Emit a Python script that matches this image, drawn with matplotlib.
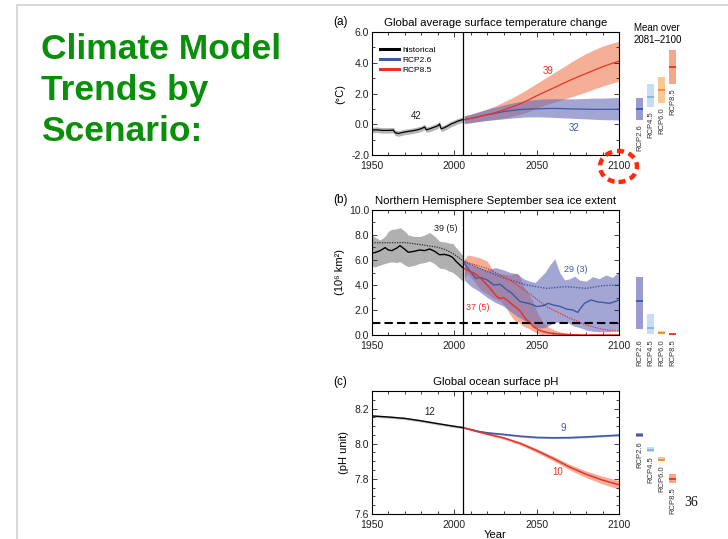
"""Slide: climate model trends by scenario (three stacked panels + side bars)."""

import matplotlib

matplotlib.use("Agg")
import matplotlib.pyplot as plt
from matplotlib.lines import Line2D
from matplotlib.patches import Ellipse
from matplotlib.ticker import FormatStrFormatter, MultipleLocator

plt.rcParams["font.family"] = ["Liberation Sans", "DejaVu Sans"]

# ---- colours -------------------------------------------------------------
C_RED = "#e8312a"
C_RED_BAND = "#ef7a50"
C_BLUE = "#3c5aa8"
C_BLUE_BAND = "#6669b6"
C_GRAY_BAND = "#9c9c9c"
SIDE_FILL = ["#9b9bd0", "#c5def5", "#f9c897", "#f5a78a"]
SIDE_MEAN = ["#3a55a4", "#7fb5e6", "#f28c2d", "#e8312a"]

# ---- (a) temperature ------------------------------------------------------
HIST_YEARS_A = [1950, 1953, 1956, 1960, 1963, 1964, 1966, 1970, 1975, 1978, 1980, 1982,
                1983, 1985, 1988, 1990, 1991, 1992, 1994, 1997, 1998, 2000, 2002, 2005]
HIST_TEMP = [-0.38, -0.36, -0.40, -0.40, -0.38, -0.55, -0.60, -0.50, -0.42, -0.35, -0.28, -0.18,
             -0.36, -0.30, -0.18, -0.10, 0.02, -0.30, -0.22, -0.05, 0.02, 0.10, 0.20, 0.30]
HIST_TEMP_LO = [-0.56, -0.54, -0.58, -0.58, -0.56, -0.73, -0.78, -0.68, -0.60, -0.53, -0.46, -0.36,
                -0.54, -0.48, -0.36, -0.28, -0.16, -0.48, -0.40, -0.23, -0.16, -0.08, 0.02, 0.12]
HIST_TEMP_HI = [-0.20, -0.18, -0.22, -0.22, -0.20, -0.37, -0.42, -0.32, -0.24, -0.17, -0.10, 0.00,
                -0.18, -0.12, 0.00, 0.08, 0.20, -0.12, -0.04, 0.13, 0.20, 0.28, 0.38, 0.48]

RCP_YEARS_A = [2006, 2010, 2015, 2020, 2025, 2030, 2035, 2040, 2045, 2050,
               2055, 2060, 2065, 2070, 2075, 2080, 2085, 2090, 2095, 2100]
RCP85_TEMP = [0.30, 0.38, 0.50, 0.62, 0.76, 0.93, 1.12, 1.33, 1.58, 1.85,
              2.10, 2.35, 2.60, 2.85, 3.08, 3.30, 3.52, 3.74, 3.93, 4.10]
RCP85_TEMP_LO = [0.05, 0.10, 0.18, 0.25, 0.32, 0.40, 0.52, 0.65, 0.82, 1.05,
                 1.25, 1.42, 1.58, 1.75, 1.92, 2.10, 2.30, 2.48, 2.65, 2.80]
RCP85_TEMP_HI = [0.55, 0.65, 0.80, 0.98, 1.20, 1.45, 1.72, 2.00, 2.32, 2.65,
                 2.98, 3.32, 3.65, 3.98, 4.30, 4.60, 4.85, 5.08, 5.25, 5.40]
RCP26_TEMP = [0.30, 0.38, 0.50, 0.62, 0.72, 0.82, 0.90, 0.96, 0.99, 1.00,
              1.02, 1.03, 1.02, 1.00, 0.99, 0.98, 0.97, 0.97, 0.97, 0.98]
RCP26_TEMP_LO = [0.05, 0.10, 0.18, 0.25, 0.30, 0.35, 0.40, 0.45, 0.48, 0.48,
                 0.47, 0.45, 0.42, 0.40, 0.37, 0.35, 0.32, 0.30, 0.29, 0.28]
RCP26_TEMP_HI = [0.55, 0.65, 0.82, 0.98, 1.12, 1.25, 1.38, 1.48, 1.56, 1.62,
                 1.65, 1.66, 1.66, 1.65, 1.66, 1.68, 1.70, 1.70, 1.72, 1.74]

# ---- (b) sea ice ----------------------------------------------------------
HIST_YEARS_B = [1950, 1952, 1955, 1958, 1960, 1962, 1965, 1967, 1970, 1972, 1975,
                1979, 1982, 1985, 1988, 1991, 1994, 1997, 1999, 2001, 2003, 2005]
HIST_ICE = [6.55, 6.60, 6.75, 6.99, 6.80, 6.75, 6.95, 7.15, 6.85, 6.62, 6.68,
            6.80, 6.75, 6.88, 6.70, 6.42, 6.45, 6.35, 6.20, 5.90, 5.65, 5.40]
HIST_ICE_LO = [5.50, 5.45, 5.60, 5.73, 5.80, 5.85, 5.80, 5.87, 5.60, 5.47, 5.55,
               5.73, 5.80, 5.92, 5.70, 5.35, 5.30, 5.10, 5.01, 4.80, 4.55, 4.32]
HIST_ICE_HI = [8.00, 7.80, 7.60, 7.90, 8.30, 8.45, 8.50, 8.59, 8.30, 8.00, 7.90,
               7.87, 8.00, 8.20, 7.90, 7.50, 7.45, 7.35, 7.33, 7.00, 6.70, 6.40]
OBS_YEARS = [1950, 1960, 1970, 1980, 1990, 1995, 2000, 2005]
OBS_ICE = [7.38, 7.38, 7.40, 7.22, 7.02, 6.80, 6.45, 5.95]

RCP85_ICE_YEARS = [2006, 2009, 2012, 2014, 2016, 2018, 2021, 2024, 2026, 2028, 2030, 2032, 2035, 2038,
                   2040, 2043, 2046, 2048, 2051, 2054, 2057, 2060, 2065, 2070, 2075, 2080, 2090, 2100]
RCP85_ICE = [5.33, 5.10, 4.95, 4.75, 4.55, 4.25, 3.85, 3.35, 3.05, 2.92, 2.98, 2.80, 2.45, 2.15,
             1.92, 1.35, 0.95, 0.67, 0.42, 0.27, 0.18, 0.12, 0.06, 0.03, 0.01, 0.0, 0.0, 0.0]
RCP85_BAND_YEARS = [2006, 2008, 2012, 2016, 2020, 2024, 2028, 2031, 2034, 2037, 2039,
                    2042, 2045, 2048, 2051, 2054, 2057, 2060, 2064, 2068, 2074, 2080]
RCP85_ICE_HI = [6.00, 6.40, 6.30, 6.15, 5.90, 5.05, 4.90, 4.85, 4.80, 4.95, 4.90,
                3.90, 3.30, 2.60, 1.60, 1.00, 0.67, 0.45, 0.27, 0.15, 0.07, 0.0]
RCP85_ICE_LO = [4.60, 4.90, 4.30, 3.60, 3.30, 2.93, 2.70, 2.27, 1.60, 1.10, 1.00,
                0.70, 0.53, 0.30, 0.10, 0.0, 0.0, 0.0, 0.0, 0.0, 0.0, 0.0]
SUBSET_YEARS = [2006, 2020, 2032, 2044, 2056, 2068, 2080, 2090, 2100]
RCP85_ICE_SUBSET = [5.87, 5.33, 4.53, 3.47, 2.27, 1.47, 0.80, 0.45, 0.30]
RCP26_ICE_SUBSET = [5.87, 5.07, 4.48, 4.00, 3.73, 3.87, 3.73, 3.95, 4.00]

RCP26_ICE_YEARS = [2006, 2009, 2013, 2016, 2020, 2024, 2028, 2031, 2035, 2040, 2045, 2048, 2050, 2054,
                   2057, 2060, 2064, 2068, 2072, 2075, 2077, 2079, 2083, 2087, 2090, 2094, 2097, 2100]
RCP26_ICE = [5.73, 5.20, 4.53, 4.60, 4.40, 4.00, 4.05, 3.70, 3.33, 2.67, 2.53, 2.40, 2.27, 2.35,
             2.53, 2.40, 2.30, 2.08, 2.00, 1.81, 2.20, 2.53, 2.80, 2.65, 2.61, 2.53, 2.65, 2.80]
RCP26_BAND_YEARS = [2006, 2010, 2015, 2020, 2025, 2030, 2034, 2038, 2042, 2046, 2049, 2052, 2055,
                    2058, 2061, 2064, 2067, 2070, 2073, 2076, 2080, 2084, 2088, 2092, 2096, 2100]
RCP26_ICE_HI = [6.10, 5.60, 5.40, 5.20, 5.40, 5.20, 5.00, 4.90, 4.50, 4.30, 4.20, 4.60, 5.00,
                5.60, 6.10, 5.00, 4.40, 4.50, 4.70, 4.40, 4.30, 4.67, 4.50, 4.80, 4.60, 5.07]
RCP26_ICE_LO = [4.40, 3.90, 3.50, 3.00, 2.60, 2.30, 1.90, 1.50, 1.20, 0.90, 0.60, 0.55, 0.60,
                0.80, 1.00, 1.05, 1.10, 0.90, 0.70, 0.60, 0.40, 0.30, 0.27, 0.25, 0.30, 0.35]
ICE_FREE_LEVEL = 1.0

# ---- (c) ocean pH ---------------------------------------------------------
HIST_YEARS_C = [1950, 1960, 1970, 1980, 1990, 2000, 2005]
HIST_PH = [8.158, 8.152, 8.144, 8.130, 8.114, 8.099, 8.092]
HIST_PH_LO = [8.151, 8.145, 8.137, 8.123, 8.107, 8.092, 8.085]
HIST_PH_HI = [8.165, 8.159, 8.151, 8.137, 8.121, 8.106, 8.099]
RCP_YEARS_C = [2006, 2015, 2020, 2030, 2040, 2050, 2060, 2070, 2080, 2090, 2100]
RCP26_PH = [8.090, 8.070, 8.062, 8.053, 8.043, 8.036, 8.034, 8.035, 8.039, 8.044, 8.049]
RCP26_PH_LO = [8.086, 8.065, 8.057, 8.048, 8.038, 8.031, 8.029, 8.030, 8.034, 8.039, 8.044]
RCP26_PH_HI = [8.094, 8.075, 8.067, 8.058, 8.048, 8.041, 8.039, 8.040, 8.044, 8.049, 8.054]
RCP85_PH = [8.090, 8.067, 8.055, 8.033, 8.002, 7.961, 7.916, 7.867, 7.826, 7.793, 7.766]
RCP85_PH_LO = [8.086, 8.062, 8.049, 8.026, 7.993, 7.950, 7.903, 7.851, 7.807, 7.771, 7.741]
RCP85_PH_HI = [8.094, 8.072, 8.061, 8.040, 8.011, 7.972, 7.929, 7.883, 7.845, 7.815, 7.791]

# ---- side bars: mean over 2081-2100 ---------------------------------------
SCENARIOS = ["RCP2.6", "RCP4.5", "RCP6.0", "RCP8.5"]
TEMP_MEAN = [1.0, 1.8, 2.2, 3.7]
TEMP_LO = [0.3, 1.1, 1.4, 2.6]
TEMP_HI = [1.7, 2.6, 3.1, 4.8]
ICE_MEAN = [2.7, 0.6, 0.2, 0.05]
ICE_LO = [0.45, 0.05, 0.05, 0.0]
ICE_HI = [4.65, 1.7, 0.32, 0.12]
PH_MEAN = [8.05, 7.965, 7.91, 7.80]
PH_LO = [8.04, 7.95, 7.90, 7.775]
PH_HI = [8.06, 7.98, 7.925, 7.83]

W, H = 728, 539


def _px_axes(fig, left, top, right, bottom, **kw):
    return fig.add_axes([left / W, 1 - bottom / H, (right - left) / W, (bottom - top) / H], **kw)


def _style(ax, ylim, ymajor, yminor, yfmt):
    ax.set_xlim(1950, 2100)
    ax.set_ylim(*ylim)
    ax.xaxis.set_major_locator(MultipleLocator(50))
    ax.xaxis.set_minor_locator(MultipleLocator(10))
    ax.yaxis.set_major_locator(MultipleLocator(ymajor))
    ax.yaxis.set_minor_locator(MultipleLocator(yminor))
    ax.yaxis.set_major_formatter(FormatStrFormatter(yfmt))
    ax.tick_params(which="both", direction="in", top=True, right=True, width=0.6,
                   labelsize=7.5, colors="#222222")
    ax.tick_params(which="major", length=3.5)
    ax.tick_params(which="minor", length=2)
    ax.tick_params(axis="x", pad=4)
    ax.tick_params(axis="y", pad=2)
    for sp in ax.spines.values():
        sp.set_linewidth(0.8)
    ax.axvline(2005.5, color="black", lw=0.9, zorder=5)


def _side_bars(fig, ax, top, bottom, mean, lo, hi, label_floor=None):
    side = _px_axes(fig, 634, top, 678, bottom, sharey=ax)
    side.set_xlim(0, 4)
    side.axis("off")
    for i, name in enumerate(SCENARIOS):
        x = i + 0.5
        side.bar(x, hi[i] - lo[i], bottom=lo[i], width=0.7, color=SIDE_FILL[i], lw=0)
        side.plot([x - 0.35, x + 0.35], [mean[i], mean[i]], color=SIDE_MEAN[i], lw=1.3,
                  solid_capstyle="butt")
        y_lab = lo[i] if label_floor is None else min(lo[i], label_floor)
        side.annotate(name, (x, y_lab), xytext=(0, -3), textcoords="offset points",
                      rotation=90, ha="center", va="top", fontsize=5.5, color="#333333",
                      annotation_clip=False)
    return side


def main():
    fig = plt.figure(figsize=(W / 100, H / 100), dpi=100)

    # slide frame and title
    fig.add_artist(Line2D([17 / W, 17 / W], [0, 1 - 5 / H], color="#d9d9d9", lw=1.5))
    fig.add_artist(Line2D([17 / W, 1], [1 - 5 / H, 1 - 5 / H], color="#d9d9d9", lw=1.5))
    fig.text(41 / W, 1 - 33 / H, "Climate Model\nTrends by\nScenario:", ha="left", va="top",
             fontsize=25.5, fontweight="bold", color="#0a8f0a", linespacing=1.31)
    fig.text(691 / W, 1 - 502 / H, "36", ha="center", va="center", fontsize=10,
             family="Liberation Serif", color="#111111")

    # ---- (a) ----
    ax = _px_axes(fig, 372, 32, 619, 155)
    _style(ax, (-2, 6), 2, 1, "%.1f")
    ax.fill_between(HIST_YEARS_A, HIST_TEMP_LO, HIST_TEMP_HI, color=C_GRAY_BAND, alpha=0.75, lw=0)
    ax.fill_between(RCP_YEARS_A, RCP85_TEMP_LO, RCP85_TEMP_HI, color=C_RED_BAND, alpha=0.6, lw=0)
    ax.fill_between(RCP_YEARS_A, RCP26_TEMP_LO, RCP26_TEMP_HI, color=C_BLUE_BAND, alpha=0.6, lw=0)
    ax.plot(HIST_YEARS_A, HIST_TEMP, color="black", lw=0.9, label="historical")
    ax.plot(RCP_YEARS_A, RCP26_TEMP, color=C_BLUE, lw=0.9, label="RCP2.6")
    ax.plot(RCP_YEARS_A, RCP85_TEMP, color=C_RED, lw=0.9, label="RCP8.5")
    leg = ax.legend(loc="upper left", bbox_to_anchor=(0.01, 0.93), frameon=False, fontsize=6,
                    handlelength=2.2, handletextpad=0.4, labelspacing=0.25, borderpad=0.2)
    for ln in leg.get_lines():
        ln.set_linewidth(2.2)
    ax.text(1977, 0.55, "42", fontsize=7, color="#222222", ha="center", va="center")
    ax.text(2057, 3.45, "39", fontsize=7, color=C_RED, ha="center", va="center")
    ax.text(2073, -0.22, "32", fontsize=7, color=C_BLUE, ha="center", va="center")
    ax.set_ylabel("(°C)", fontsize=8, labelpad=4)
    ax.set_title("Global average surface temperature change", fontsize=8.2, pad=4)
    fig.text(333 / W, 1 - 22 / H, "(a)", fontsize=8.5, ha="left", va="center")
    fig.text(634 / W, 1 - 34 / H, "Mean over\n2081\u20132100", fontsize=7, ha="left",
             va="center", linespacing=1.15)
    _side_bars(fig, ax, 32, 155, TEMP_MEAN, TEMP_LO, TEMP_HI)
    # red dashed circle round the 2100 label
    fig.add_artist(Ellipse((618.5 / W, 1 - 166.5 / H), 37 / W, 31 / H, fill=False,
                           edgecolor="#ff2a0a", lw=3.2, linestyle=(0, (1.6, 1.1)),
                           transform=fig.transFigure))

    # ---- (b) ----
    bx = _px_axes(fig, 372, 210, 619, 335)
    _style(bx, (0, 10), 2, 1, "%.1f")
    bx.fill_between(HIST_YEARS_B, HIST_ICE_LO, HIST_ICE_HI, color=C_GRAY_BAND, alpha=0.8, lw=0)
    bx.fill_between(RCP85_BAND_YEARS, RCP85_ICE_LO, RCP85_ICE_HI, color=C_RED_BAND, alpha=0.6, lw=0)
    bx.fill_between(RCP26_BAND_YEARS, RCP26_ICE_LO, RCP26_ICE_HI, color=C_BLUE_BAND, alpha=0.6, lw=0)
    bx.plot(OBS_YEARS, OBS_ICE, color="#333333", lw=0.9, ls=(0, (1, 1)))
    bx.plot(HIST_YEARS_B, HIST_ICE, color="black", lw=1.0)
    bx.plot(SUBSET_YEARS, RCP26_ICE_SUBSET, color=C_BLUE, lw=1.0, ls=(0, (1, 1)))
    bx.plot(SUBSET_YEARS, RCP85_ICE_SUBSET, color=C_RED, lw=0.9, ls=(0, (1, 1)))
    bx.plot(RCP26_ICE_YEARS, RCP26_ICE, color=C_BLUE, lw=1.0)
    bx.plot(RCP85_ICE_YEARS, RCP85_ICE, color=C_RED, lw=1.1)
    bx.axhline(ICE_FREE_LEVEL, color="black", lw=1.5, ls=(0, (4, 2)), zorder=6)
    bx.text(1995, 8.55, "39 (5)", fontsize=6.5, color="#222222", ha="center", va="center")
    bx.text(2074, 5.2, "29 (3)", fontsize=6.5, color=C_BLUE, ha="center", va="center")
    bx.text(2014, 2.2, "37 (5)", fontsize=6.5, color=C_RED, ha="center", va="center")
    bx.set_ylabel("(10\u2076 km\u00b2)", fontsize=8, labelpad=3)
    bx.set_title("Northern Hemisphere September sea ice extent", fontsize=8.2, pad=4)
    fig.text(333 / W, 1 - 200 / H, "(b)", fontsize=8.5, ha="left", va="center")
    _side_bars(fig, bx, 210, 335, ICE_MEAN, ICE_LO, ICE_HI, label_floor=0.0)

    # ---- (c) ----
    cx = _px_axes(fig, 372, 391, 619, 514)
    _style(cx, (7.6, 8.3), 0.2, 0.05, "%.1f")
    cx.fill_between(HIST_YEARS_C, HIST_PH_LO, HIST_PH_HI, color=C_GRAY_BAND, alpha=0.6, lw=0)
    cx.fill_between(RCP_YEARS_C, RCP85_PH_LO, RCP85_PH_HI, color=C_RED_BAND, alpha=0.6, lw=0)
    cx.fill_between(RCP_YEARS_C, RCP26_PH_LO, RCP26_PH_HI, color=C_BLUE_BAND, alpha=0.6, lw=0)
    cx.plot(HIST_YEARS_C, HIST_PH, color="black", lw=1.0)
    cx.plot(RCP_YEARS_C, RCP26_PH, color=C_BLUE, lw=1.1)
    cx.plot(RCP_YEARS_C, RCP85_PH, color=C_RED, lw=1.1)
    cx.text(1985, 8.18, "12", fontsize=7, color="#222222", ha="center", va="center")
    cx.text(2066, 8.09, "9", fontsize=7, color=C_BLUE, ha="center", va="center")
    cx.text(2063, 7.84, "10", fontsize=7, color=C_RED, ha="center", va="center")
    cx.set_ylabel("(pH unit)", fontsize=8, labelpad=4)
    cx.set_xlabel("Year", fontsize=8, labelpad=0)
    cx.set_title("Global ocean surface pH", fontsize=8.2, pad=4)
    fig.text(333 / W, 1 - 382 / H, "(c)", fontsize=8.5, ha="left", va="center")
    _side_bars(fig, cx, 391, 514, PH_MEAN, PH_LO, PH_HI)

    fig.savefig("out.png", dpi=100)
    plt.close(fig)


if __name__ == "__main__":
    main()
